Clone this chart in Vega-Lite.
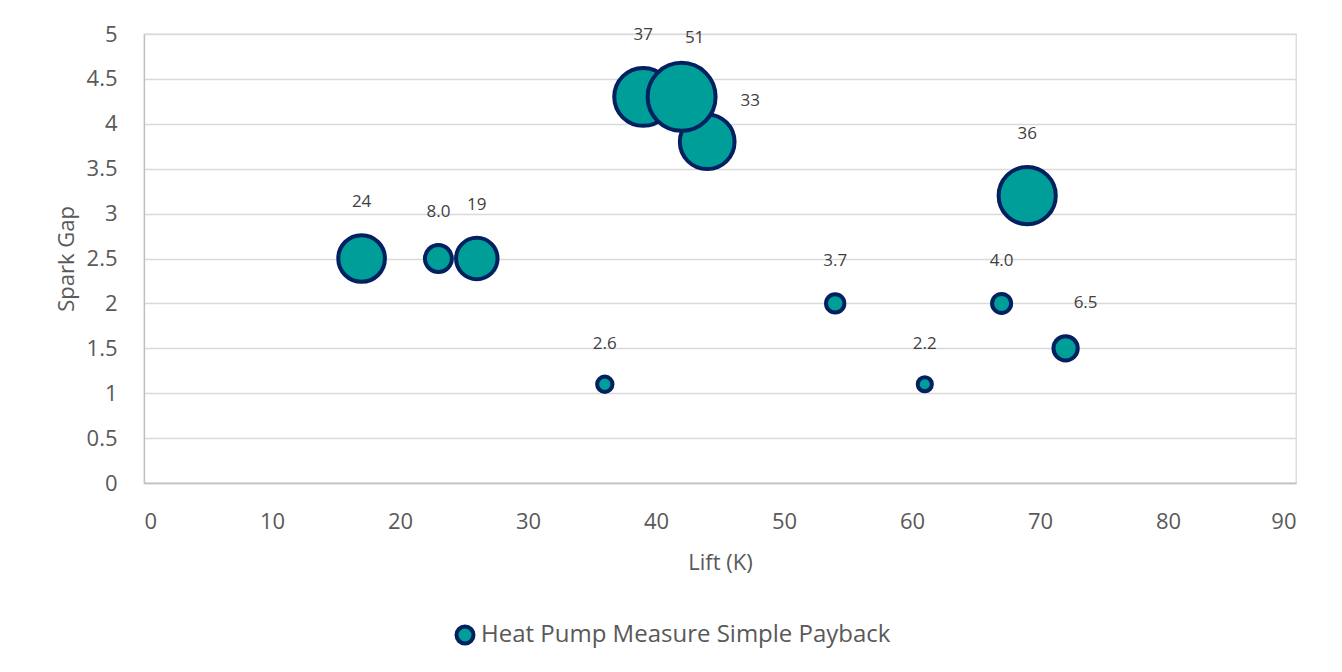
{
  "$schema": "https://vega.github.io/schema/vega-lite/v6.json",
  "width": 1152,
  "height": 449,
  "autosize": {"type": "none"},
  "padding": {"left": 144, "top": 34, "right": 46, "bottom": 189},
  "background": "white",
  "config": {
    "font": "Open Sans",
    "view": {"stroke": "#D9D9D9", "strokeWidth": 1.3},
    "axis": {
      "labelFont": "Open Sans",
      "labelFontSize": 22,
      "labelColor": "#595959",
      "titleFont": "Open Sans",
      "titleFontSize": 22,
      "titleFontWeight": "normal",
      "titleColor": "#595959",
      "ticks": false,
      "domainColor": "#BFBFBF",
      "domainWidth": 1.3,
      "gridColor": "#D9D9D9",
      "gridWidth": 1.3
    }
  },
  "data": {
    "values": [
      {"lift": 17, "gap": 2.5, "payback": 24},
      {"lift": 23, "gap": 2.5, "payback": 8.0},
      {"lift": 26, "gap": 2.5, "payback": 19},
      {"lift": 36, "gap": 1.1, "payback": 2.6},
      {"lift": 39, "gap": 4.3, "payback": 37},
      {"lift": 44, "gap": 3.8, "payback": 33},
      {"lift": 54, "gap": 2.0, "payback": 3.7},
      {"lift": 61, "gap": 1.1, "payback": 2.2},
      {"lift": 67, "gap": 2.0, "payback": 4.0},
      {"lift": 69, "gap": 3.2, "payback": 36},
      {"lift": 72, "gap": 1.5, "payback": 6.5},
      {"lift": 42, "gap": 4.3, "payback": 51}
    ]
  },
  "encoding": {
    "x": {
      "field": "lift",
      "type": "quantitative",
      "scale": {"domain": [0, 90], "nice": false},
      "axis": {"values": [0, 10, 20, 30, 40, 50, 60, 70, 80, 90], "grid": false, "labelPadding": 28, "title": "Lift (K)", "titlePadding": 20}
    },
    "y": {
      "field": "gap",
      "type": "quantitative",
      "scale": {"domain": [0, 5], "nice": false},
      "axis": {"values": [0, 0.5, 1, 1.5, 2, 2.5, 3, 3.5, 4, 4.5, 5], "format": "~g", "grid": true, "labelPadding": 27, "title": "Spark Gap", "titlePadding": 8}
    }
  },
  "layer": [
    {
      "mark": {"type": "point", "shape": "circle", "filled": true, "opacity": 1, "stroke": "#002060", "strokeWidth": 4, "strokeOpacity": 1},
      "encoding": {
        "size": {"field": "payback", "type": "quantitative", "scale": {"type": "linear", "domain": [0, 51], "range": [0, 4624]}, "legend": null},
        "fill": {
          "datum": "Heat Pump Measure Simple Payback",
          "type": "nominal",
          "scale": {"range": ["#009E99"]},
          "legend": {
            "title": null,
            "orient": "none",
            "legendX": 309,
            "legendY": 589,
            "symbolType": "circle",
            "symbolSize": 289,
            "symbolStrokeColor": "#002060",
            "symbolStrokeWidth": 4,
            "symbolOpacity": 1,
            "labelFont": "Open Sans",
            "labelFontSize": 24,
            "labelColor": "#595959",
            "labelLimit": 600,
            "labelOffset": 4
          }
        }
      }
    },
    {
      "transform": [{"filter": "datum.payback != 33 && datum.payback != 51 && datum.payback != 6.5"}],
      "mark": {"type": "text", "font": "Open Sans", "fontSize": 17, "color": "#404040", "baseline": "middle", "align": "center"},
      "encoding": {
        "text": {"field": "payback", "type": "quantitative", "format": ".2r"},
        "theta": {"value": 0},
        "radius": {"field": "payback", "type": "quantitative", "scale": {"type": "sqrt", "domain": [0, 51], "range": [33, 67], "zero": false}}
      }
    },
    {
      "transform": [{"filter": "datum.payback == 51"}],
      "mark": {"type": "text", "font": "Open Sans", "fontSize": 17, "color": "#404040", "baseline": "middle", "align": "center", "dx": 13, "dy": 8},
      "encoding": {
        "text": {"field": "payback", "type": "quantitative", "format": ".2r"},
        "theta": {"value": 0},
        "radius": {"field": "payback", "type": "quantitative", "scale": {"type": "sqrt", "domain": [0, 51], "range": [33, 67], "zero": false}}
      }
    },
    {
      "transform": [{"filter": "datum.payback == 6.5"}],
      "mark": {"type": "text", "font": "Open Sans", "fontSize": 17, "color": "#404040", "baseline": "middle", "align": "center", "dx": 20, "dy": 0},
      "encoding": {
        "text": {"field": "payback", "type": "quantitative", "format": ".2r"},
        "theta": {"value": 0},
        "radius": {"field": "payback", "type": "quantitative", "scale": {"type": "sqrt", "domain": [0, 51], "range": [33, 67], "zero": false}}
      }
    },
    {
      "transform": [{"filter": "datum.payback == 33"}],
      "mark": {"type": "text", "font": "Open Sans", "fontSize": 17, "color": "#404040", "baseline": "middle", "align": "center", "dx": 43, "dy": 20},
      "encoding": {
        "text": {"field": "payback", "type": "quantitative", "format": ".2r"},
        "theta": {"value": 0},
        "radius": {"field": "payback", "type": "quantitative", "scale": {"type": "sqrt", "domain": [0, 51], "range": [33, 67], "zero": false}}
      }
    }
  ]
}
